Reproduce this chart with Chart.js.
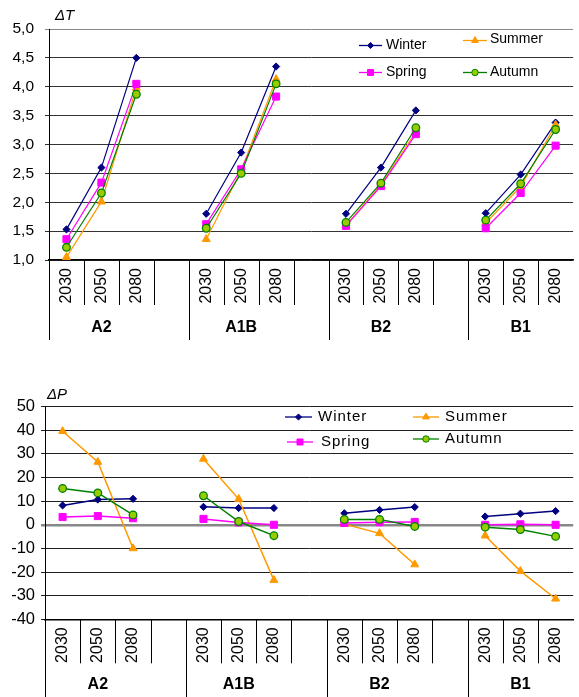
<!DOCTYPE html>
<html>
<head>
<meta charset="utf-8">
<script src="https://cdn.jsdelivr.net/npm/chart.js@4.4.0/dist/chart.umd.min.js"></script>
<style>
  html, body { margin: 0; padding: 0; background: #fff; overflow: hidden; }
  #wrap { position: relative; width: 579px; height: 697px; overflow: hidden; }
  .box { position: absolute; left: 0; }
</style>
</head>
<body>
<div id="wrap">
  <div class="box" style="top:0"><canvas id="chartT" width="583" height="345"></canvas></div>
  <div class="box" style="top:370px"><canvas id="chartP" width="583" height="327"></canvas></div>
</div>
<script>
const FONT = '"Liberation Sans", Arial, sans-serif';

const years = ["2030", "2050", "2080"];
const scenarios = ["A2", "A1B", "B2", "B1"];

// temperature change, 3 years for each scenario A2, A1B, B2, B1
const winterT = [1.53, 2.60, 4.50, 1.80, 2.86, 4.35, 1.80, 2.60, 3.59, 1.81, 2.48, 3.38];
const summerT = [1.05, 2.01, 3.98, 1.36, 2.55, 4.13, 1.60, 2.30, 3.22, 1.64, 2.27, 3.34];
const springT = [1.36, 2.34, 4.05, 1.62, 2.57, 3.83, 1.59, 2.28, 3.18, 1.55, 2.16, 2.98];
const autumnT = [1.22, 2.16, 3.87, 1.55, 2.50, 4.05, 1.65, 2.33, 3.29, 1.69, 2.32, 3.26];

// precipitation change (%)
const winterP = [8.2, 10.7, 11.0, 7.6, 7.1, 7.1, 4.9, 6.3, 7.5, 3.5, 4.7, 5.8];
const summerP = [39.6, 26.6, -10.0, 27.9, 10.9, -23.4, 0.3, -3.6, -16.8, -4.6, -19.6, -31.3];
const springP = [3.3, 3.7, 2.8, 2.5, 1.0, 0.0, 0.8, 1.1, 1.2, 0.0, 0.2, 0.0];
const autumnP = [15.4, 13.5, 4.2, 12.3, 1.4, -4.6, 2.3, 2.3, -0.7, -1.0, -2.0, -4.9];

// x labels: three years per scenario with an empty slot between scenarios
const labels = [];
scenarios.forEach((s, g) => {
  years.forEach(y => labels.push(y));
  if (g < scenarios.length - 1) labels.push("");
});

const withGaps = vals => {
  const out = [];
  scenarios.forEach((s, g) => {
    for (let k = 0; k < years.length; k++) out.push(vals[g * 3 + k]);
    if (g < scenarios.length - 1) out.push(null);
  });
  return out;
};

const styles = {
  Winter: { color: "#000080", fill: "#000080", pointStyle: "rectRot", radius: 3.6, order: 3 },
  Summer: { color: "#FF9900", fill: "#FF9900", pointStyle: "triangle", radius: 4.6, order: 2 },
  Spring: { color: "#FF00FF", fill: "#FF00FF", pointStyle: "rect", radius: 5, order: 1 },
  Autumn: { color: "#008000", fill: "#99CC00", pointStyle: "circle", radius: 3.8, order: 0 },
};

const makeDataset = (name, vals, lw) => {
  const s = styles[name];
  return {
    label: name,
    data: withGaps(vals),
    borderColor: s.color,
    backgroundColor: s.fill,
    borderWidth: lw,
    pointStyle: s.pointStyle,
    pointRadius: s.radius,
    pointBackgroundColor: s.fill,
    pointBorderColor: s.color,
    pointBorderWidth: name === "Autumn" ? 1.3 : 1,
    spanGaps: false,
    tension: 0,
    order: s.order,
  };
};

// separators, group names, axis title and legend
const axisDeco = {
  id: "axisDeco",
  afterDraw(chart, args, opts) {
    const { ctx, chartArea: a, scales: { x } } = chart;
    const step = x.getPixelForValue(1) - x.getPixelForValue(0);
    ctx.save();
    ctx.strokeStyle = "#000";
    ctx.lineWidth = 1;
    for (let i = 0; i < labels.length; i++) {
      const bx = Math.round(x.getPixelForValue(i) - step / 2) + 0.5;
      const long = i % 4 === 0;
      ctx.beginPath();
      ctx.moveTo(bx, a.bottom);
      ctx.lineTo(bx, long ? opts.longEnd : a.bottom + opts.shortLen);
      ctx.stroke();
    }
    ctx.fillStyle = "#000";
    ctx.font = "bold 16px " + FONT;
    ctx.textAlign = "center";
    ctx.textBaseline = "middle";
    scenarios.forEach((s, g) => ctx.fillText(s, x.getPixelForValue(g * 4 + 1), opts.groupY));

    ctx.font = "italic 15px " + FONT;
    ctx.textAlign = "left";
    ctx.fillText(opts.title, opts.titleX, opts.titleY);

    // legend
    ctx.font = opts.legendFont;
    if (opts.legendSpacing) ctx.letterSpacing = opts.legendSpacing;
    opts.legend.forEach(it => {
      const s = styles[it.name];
      ctx.strokeStyle = s.color;
      ctx.lineWidth = 1.3;
      ctx.beginPath();
      ctx.moveTo(it.x0, it.y);
      ctx.lineTo(it.x1, it.y);
      ctx.stroke();
      ctx.fillStyle = s.fill;
      ctx.strokeStyle = s.color;
      ctx.lineWidth = 1;
      Chart.helpers.drawPoint(ctx, {
        pointStyle: s.pointStyle, radius: s.radius * 0.85, rotation: 0, borderWidth: 1,
      }, (it.x0 + it.x1) / 2, it.y);
      ctx.fillStyle = "#000";
      ctx.fillText(it.name, it.tx, it.ty);
    });
    ctx.restore();
  },
};

const baseOptions = (cfg) => ({
  responsive: false,
  animation: false,
  layout: { padding: { top: cfg.top, right: 0, left: 0, bottom: 0 } },
  plugins: {
    legend: { display: false },
    tooltip: { enabled: false },
    axisDeco: cfg.deco,
  },
  scales: {
    x: {
      type: "category",
      offset: true,
      grid: { display: false, drawTicks: false },
      border: { display: true, color: "#000", width: 1.5 },
      ticks: {
        autoSkip: false, minRotation: 90, maxRotation: 90, padding: 8,
        color: "#000", font: { family: FONT, size: 16 },
      },
      afterFit: s => { s.height = cfg.xHeight; },
    },
    y: {
      min: cfg.min, max: cfg.max,
      ticks: {
        stepSize: cfg.step, padding: cfg.yPad, color: "#000",
        font: { family: FONT, size: cfg.yFont },
        callback: cfg.fmt,
      },
      grid: {
        color: cfg.gridColor, lineWidth: cfg.gridWidth, tickLength: 4,
      },
      border: { color: "#000", width: 1 },
      afterFit: s => { s.width = cfg.yWidth; },
    },
  },
});

new Chart(document.getElementById("chartT"), {
  type: "line",
  data: {
    labels,
    datasets: [
      makeDataset("Winter", winterT, 1.2),
      makeDataset("Summer", summerT, 1.2),
      makeDataset("Spring", springT, 1.2),
      makeDataset("Autumn", autumnT, 1.2),
    ],
  },
  options: baseOptions({
    top: 29, xHeight: 85, yWidth: 49, min: 1, max: 5, step: 0.5, yFont: 15.5, yPad: 11,
    fmt: v => v.toFixed(1).replace(".", ","),
    gridColor: c => (c.tick && c.tick.value === 5 ? "#888" : "#333"),
    gridWidth: 1,
    deco: {
      longEnd: 340, shortLen: 45, groupY: 328, title: "\u0394T", titleX: 55, titleY: 16,
      legendFont: "14px " + FONT,
      legend: [
        { name: "Winter", x0: 359, x1: 382, y: 45.5, tx: 386, ty: 45 },
        { name: "Summer", x0: 463, x1: 487, y: 40.5, tx: 490, ty: 39 },
        { name: "Spring", x0: 359, x1: 382, y: 72.5, tx: 386, ty: 72 },
        { name: "Autumn", x0: 463, x1: 487, y: 72.5, tx: 490, ty: 72 },
      ],
    },
  }),
  plugins: [axisDeco],
});

new Chart(document.getElementById("chartP"), {
  type: "line",
  data: {
    labels,
    datasets: [
      makeDataset("Winter", winterP, 1.5),
      makeDataset("Summer", summerP, 1.5),
      makeDataset("Spring", springP, 1.5),
      makeDataset("Autumn", autumnP, 1.5),
    ],
  },
  options: baseOptions({
    top: 36.7, xHeight: 77.7, yWidth: 45, min: -40, max: 50, step: 10, yFont: 16.5, yPad: 6,
    fmt: v => String(v),
    gridColor: c => (c.tick && c.tick.value === 0 ? "#888" : "#222"),
    gridWidth: c => (c.tick && c.tick.value === 0 ? 2.5 : 1),
    deco: {
      longEnd: 327, shortLen: 44, groupY: 315, title: "\u0394P", titleX: 47, titleY: 25,
      legendFont: "15px " + FONT, legendSpacing: "1px",
      legend: [
        { name: "Winter", x0: 285, x1: 312, y: 47, tx: 318, ty: 47 },
        { name: "Summer", x0: 413, x1: 439, y: 47, tx: 445, ty: 47 },
        { name: "Spring", x0: 287, x1: 313, y: 72, tx: 321, ty: 72 },
        { name: "Autumn", x0: 413, x1: 439, y: 69, tx: 445, ty: 69 },
      ],
    },
  }),
  plugins: [axisDeco],
});
</script>
</body>
</html>
